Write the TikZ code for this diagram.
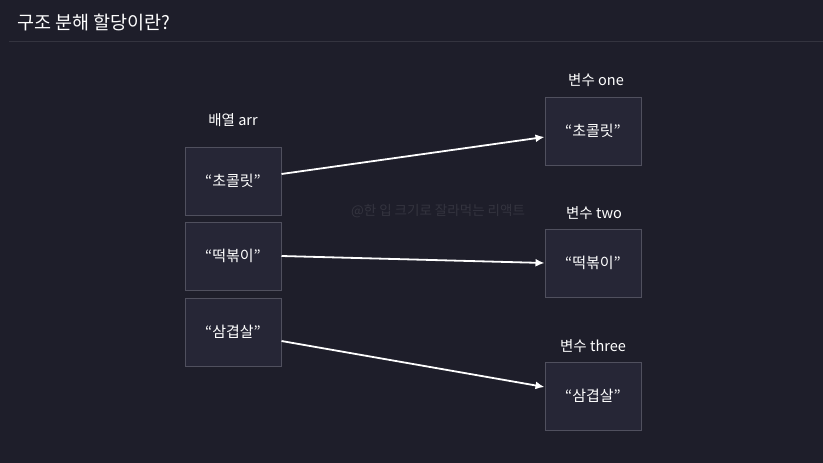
\documentclass[tikz,border=0pt]{standalone}
\usepackage{fontspec}
\setmainfont{Noto Sans CJK KR}
\usetikzlibrary{arrows.meta}
\definecolor{bgdark}{HTML}{1E1E2A}
\definecolor{boxfill}{HTML}{262636}
\definecolor{boxline}{HTML}{50505E}
\definecolor{rulegray}{HTML}{34343F}
\definecolor{markgray}{HTML}{34343F}
\tikzset{
  valbox/.style={draw=boxline, fill=boxfill, line width=1pt, minimum width=96pt, minimum height=68pt, inner sep=0pt, text=white, font=\fontsize{15}{17}\selectfont},
  varlabel/.style={text=white, font=\fontsize{14.5}{16}\selectfont, inner sep=0pt},
  assign/.style={white, line width=1.8pt, -{Latex[length=9pt,width=8pt]}}
}
\begin{document}
\begin{tikzpicture}[x=1pt,y=-1pt]
        \fill [bgdark] (0,0) rectangle (823,463);
        \useasboundingbox (0,0) rectangle (823,463);

        \node [anchor=west, text=white, inner sep=0pt, font=\fontsize{18.5}{21}\selectfont] (title) at (17,22) {구조 분해 할당이란?};
        \draw [rulegray, line width=1pt] (9,41) -- (823,41);

        \node [text=markgray, inner sep=0pt, font=\fontsize{13.5}{15}\selectfont] (mark) at (438,211) {@한 입 크기로 잘라먹는 리액트};

        % array arr
        \node [varlabel] (arrlabel) at (233,120) {배열 arr};
        \node [valbox] (arr0) at (233,181) {“초콜릿”};
        \node [valbox] (arr1) at (233,256) {“떡볶이”};
        \node [valbox] (arr2) at (233,332) {“삼겹살”};

        % variables
        \node [varlabel] (onelabel) at (596,80) {변수 one};
        \node [valbox] (one) at (593,131) {“초콜릿”};
        \node [varlabel] (twolabel) at (594,213) {변수 two};
        \node [valbox] (two) at (593,263) {“떡볶이”};
        \node [varlabel] (threelabel) at (593,346) {변수 three};
        \node [valbox] (three) at (593,396) {“삼겹살”};

        \draw [assign] ([yshift=7pt]arr0.east) -- ([yshift=-6pt]one.west);
        \draw [assign] (arr1.east) -- (two.west);
        \draw [assign] ([yshift=-9pt]arr2.east) -- ([yshift=9pt]three.west);
\end{tikzpicture}
\end{document}
